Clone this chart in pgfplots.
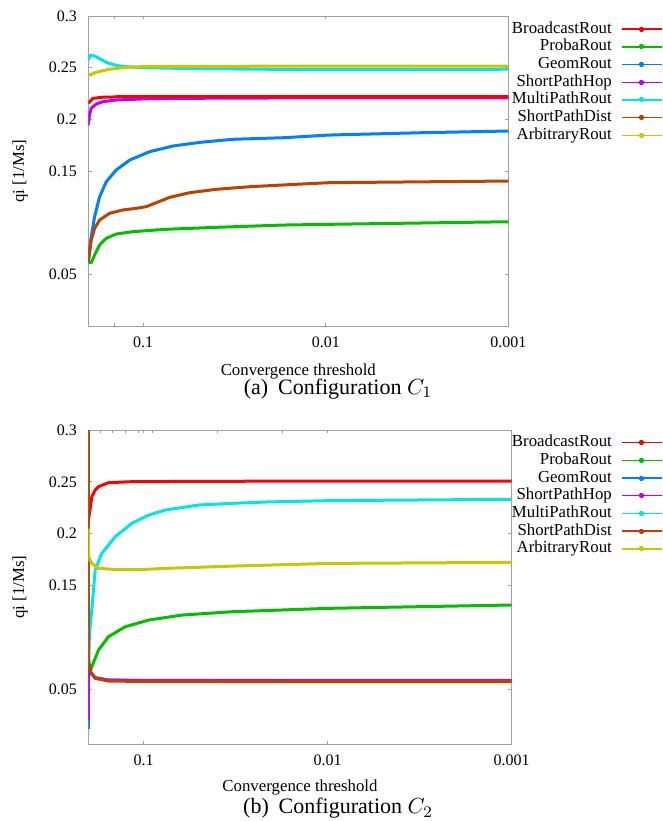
\documentclass[border=0pt]{standalone}
\usepackage{pgfplots}
\pgfplotsset{compat=1.18}
\usepackage{fontspec}
\setmainfont{Liberation Serif}
\definecolor{cRed}{RGB}{255,0,0}
\definecolor{cGreen}{RGB}{0,192,0}
\definecolor{cBlue}{RGB}{0,128,255}
\definecolor{cPurple}{RGB}{192,0,255}
\definecolor{cCyan}{RGB}{0,230,230}
\definecolor{cOrange}{RGB}{192,64,0}
\definecolor{cYellow}{RGB}{200,200,0}
\definecolor{axgray}{RGB}{160,160,160}
\pgfplotsset{
  legend image code/.code={\draw[#1, line width=0.7pt] (0pt,0pt) -- (20pt,0pt); \fill[#1] (9.5pt,-0.5pt) rectangle (10.5pt,0.5pt);},
  every axis plot/.append style={line width=1.5pt, line join=round},
}
\begin{document}
\begin{tikzpicture}
\useasboundingbox (0,0) rectangle (331.5pt,-410.5pt);
% ---------- (a) ----------
\begin{axis}[
  scale only axis,
  xmode=log, x dir=reverse,
  xmin=0.001, xmax=0.2, ymin=0, ymax=0.3,
  xtick={0.1,0.01,0.001}, xticklabels={0.1,0.01,0.001},
  ytick={0.05,0.15,0.2,0.25,0.3}, yticklabels={0.05,0.15,0.2,0.25,0.3},
  minor xtick={0.1435},
  axis line style={axgray, line width=0.5pt},
  tick style={axgray, line width=0.5pt},
  major tick length=1.7pt, minor tick length=1.7pt,
  tick align=inside,
  tick label style={font=\fontsize{8}{9.6}\selectfont, inner sep=0pt, text=black},
  yticklabel style={xshift=-5.5pt},
  xticklabel style={yshift=-5.3pt},
  label style={font=\fontsize{8.4}{10}\selectfont},
  ylabel={qi [1/Ms]},
  xlabel={Convergence threshold},
  legend style={draw=none, fill=none, inner sep=0pt, at={(axis description cs:1,1)}, anchor=north east,
    font=\fontsize{8.4}{10}\selectfont, row sep=0.85pt, column sep=4.7pt,
    nodes={inner sep=0pt, text height=6pt, text depth=2pt}, xshift=77.35pt, yshift=-2.35pt},
  legend cell align=right,
  legend plot pos=right,
  at={(44.15pt,-163pt)}, anchor=south west,
  width=210pt, height=155pt,
  ylabel style={at={(axis description cs:-0.1626,0.5)}, anchor=center},
  xlabel style={at={(axis description cs:0.5,0)}, anchor=center, yshift=-22.8pt},
]
\addplot[cRed] coordinates {(0.2,0.2155) (0.1887,0.2203) (0.1664,0.2214) (0.1406,0.2217) (0.01,0.2217) (0.001,0.2217)};
\addlegendentry{BroadcastRout}
\addplot[cGreen] coordinates {(0.2,0.0613) (0.1928,0.0613) (0.1847,0.0687) (0.1734,0.0784) (0.1595,0.0849) (0.1406,0.0890) (0.1139,0.0913) (0.0748,0.0936) (0.0398,0.0955) (0.01714,0.0977) (0.0096,0.0984) (0.001,0.1009)};
\addlegendentry{ProbaRout}
\addplot[cBlue] coordinates {(0.2,0.0622) (0.1928,0.0864) (0.1847,0.1058) (0.1734,0.1251) (0.1595,0.1396) (0.1406,0.1510) (0.1187,0.1606) (0.0922,0.1687) (0.0687,0.1742) (0.0491,0.1777) (0.0322,0.1807) (0.01714,0.1822) (0.0096,0.1848) (0.00308,0.187) (0.001,0.1887)};
\addlegendentry{GeomRout}
\addplot[cPurple] coordinates {(0.2,0.1945) (0.197,0.2045) (0.1928,0.2107) (0.1811,0.2148) (0.1664,0.2171) (0.1406,0.2187) (0.0922,0.2200) (0.0398,0.2205) (0.01714,0.2207) (0.001,0.2208)};
\addlegendentry{ShortPathHop}
\addplot[cCyan] coordinates {(0.2,0.2574) (0.1943,0.2623) (0.1817,0.2607) (0.1749,0.2591) (0.1645,0.2565) (0.1542,0.2542) (0.14,0.2522) (0.1249,0.2510) (0.1,0.2500) (0.05,0.2490) (0.0096,0.2480) (0.001,0.2485)};
\addlegendentry{MultiPathRout}
\addplot[cOrange] coordinates {(0.2,0.0622) (0.1928,0.0832) (0.1847,0.0945) (0.1734,0.1026) (0.1528,0.1091) (0.1292,0.1123) (0.1092,0.1139) (0.0963,0.1155) (0.0849,0.1193) (0.0717,0.1245) (0.0557,0.1290) (0.0398,0.1323) (0.0261,0.1348) (0.01714,0.1365) (0.0096,0.1387) (0.001,0.1403)};
\addlegendentry{ShortPathDist}
\addplot[cYellow] coordinates {(0.2,0.2435) (0.195,0.2430) (0.1817,0.2455) (0.1542,0.2484) (0.1249,0.2503) (0.1,0.2510) (0.05,0.2513) (0.01,0.2515) (0.001,0.2516)};
\addlegendentry{ArbitraryRout}
\addplot[cRed, forget plot] coordinates {(0.1406,0.2217) (0.01,0.2217) (0.001,0.2217)};
\end{axis}
% ---------- (b) ----------
\begin{axis}[
  scale only axis,
  xmode=log, x dir=reverse,
  xmin=0.001, xmax=0.2, ymin=-0.0027, ymax=0.3,
  xtick={0.1,0.01,0.001}, xticklabels={0.1,0.01,0.001},
  ytick={0.05,0.15,0.2,0.25,0.3}, yticklabels={0.05,0.15,0.2,0.25,0.3},
  minor xtick={},
  extra x ticks={0.1723,0.1470,0.1249,0.1061,0.0901,0.0398,0.0176},
  extra x tick labels={},
  extra x tick style={xtick pos=right},
  axis line style={axgray, line width=0.5pt},
  tick style={axgray, line width=0.5pt},
  major tick length=1.7pt, minor tick length=1.7pt,
  tick align=inside,
  tick label style={font=\fontsize{8}{9.6}\selectfont, inner sep=0pt, text=black},
  yticklabel style={xshift=-5.5pt},
  xticklabel style={yshift=-5pt},
  label style={font=\fontsize{8.4}{10}\selectfont},
  ylabel={qi [1/Ms]},
  xlabel={Convergence threshold},
  legend style={draw=none, fill=none, inner sep=0pt, at={(axis description cs:1,1)}, anchor=north east,
    font=\fontsize{8.4}{10}\selectfont, row sep=0.85pt, column sep=4.7pt,
    nodes={inner sep=0pt, text height=6pt, text depth=2pt}, xshift=75.65pt, yshift=-2.1pt},
  legend cell align=right,
  legend plot pos=right,
  at={(44.15pt,-372pt)}, anchor=south west,
  width=211.7pt, height=157pt,
  ylabel style={at={(axis description cs:-0.1613,0.5)}, anchor=center},
  xlabel style={at={(axis description cs:0.5,0)}, anchor=center, yshift=-21.75pt},
]
\addplot[cRed] coordinates {(0.2,0.185) (0.1995,0.2133) (0.1914,0.2357) (0.1835,0.2420) (0.176,0.2454) (0.1552,0.2492) (0.1163,0.2502) (0.05,0.2505) (0.0098,0.2508) (0.001,0.2508)};
\addlegendentry{BroadcastRout}
\addplot[cGreen] coordinates {(0.2,0.31) (0.1995,0.0622) (0.1914,0.0718) (0.176,0.0879) (0.1552,0.1008) (0.1258,0.1104) (0.0939,0.1168) (0.062,0.1216) (0.0331,0.1248) (0.0098,0.1281) (0.001,0.1313)};
\addlegendentry{ProbaRout}
\addplot[cBlue] coordinates {(0.2,0.012) (0.1995,0.072) (0.1943,0.066) (0.1835,0.0610) (0.1552,0.0590) (0.1,0.0586) (0.01,0.0585) (0.001,0.0584)};
\addlegendentry{GeomRout}
\addplot[cPurple] coordinates {(0.2,0.02) (0.1995,0.074) (0.1943,0.0665) (0.1835,0.0612) (0.1552,0.0589) (0.1,0.0585) (0.001,0.0583)};
\addlegendentry{ShortPathHop}
\addplot[cCyan] coordinates {(0.2,0.07) (0.197,0.105) (0.1914,0.1265) (0.1835,0.165) (0.1688,0.1811) (0.1427,0.1971) (0.1161,0.2100) (0.0939,0.2180) (0.0761,0.2229) (0.0501,0.2277) (0.0331,0.2293) (0.0217,0.2306) (0.0098,0.2319) (0.001,0.2332)};
\addlegendentry{MultiPathRout}
\addplot[cOrange] coordinates {(0.2,0.31) (0.1995,0.0782) (0.1943,0.067) (0.1835,0.0606) (0.1552,0.058) (0.1,0.0576) (0.01,0.0575) (0.001,0.0574)};
\addlegendentry{ShortPathDist}
\addplot[cYellow] coordinates {(0.2,0.205) (0.1995,0.178) (0.1914,0.1714) (0.176,0.1666) (0.1427,0.1656) (0.1,0.1656) (0.0761,0.1666) (0.0331,0.1688) (0.0098,0.1714) (0.001,0.1724)};
\addlegendentry{ArbitraryRout}
\end{axis}
\node[font=\fontsize{11}{13}\selectfont, anchor=center] at (169pt,-194.5pt) {(a)\hspace{0.45em}Configuration $C_1$};
\node[font=\fontsize{11}{13}\selectfont, anchor=center] at (169pt,-404.2pt) {(b)\hspace{0.45em}Configuration $C_2$};
\end{tikzpicture}
\end{document}
